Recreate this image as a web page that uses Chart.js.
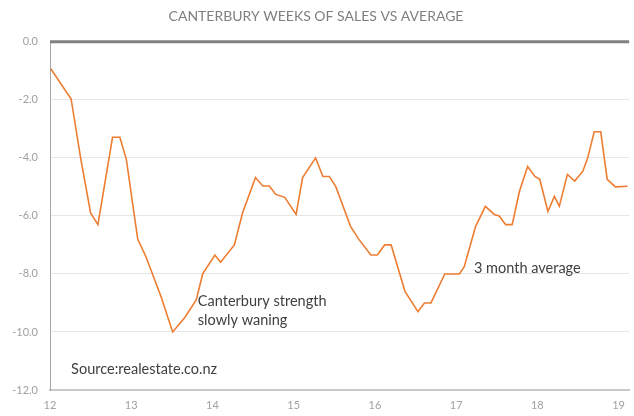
<!DOCTYPE html>
<html>
<head>
<meta charset="utf-8">
<script src="https://cdn.jsdelivr.net/npm/chart.js@4/dist/chart.umd.min.js"></script>
<style>
    html, body { margin: 0; padding: 0; background: #fff; }
    #wrap { width: 634px; height: 416px; }
</style>
</head>
<body>
<div id="wrap"><canvas id="salesChart" width="634" height="416"></canvas></div>
<script>
// years (12 = 2012) and weeks of sales vs average
const years = [
    12.01, 12.26, 12.38, 12.50, 12.59, 12.77, 12.86, 12.94, 13.08, 13.18,
    13.37, 13.51, 13.66, 13.80, 13.88, 14.03, 14.10, 14.27, 14.37, 14.53,
    14.62, 14.70, 14.78, 14.89, 15.03, 15.11, 15.27, 15.36, 15.44, 15.52,
    15.70, 15.80, 15.95, 16.03, 16.12, 16.20, 16.28, 16.37, 16.53, 16.61,
    16.69, 16.86, 17.04, 17.10, 17.24, 17.36, 17.47, 17.53, 17.61, 17.69,
    17.78, 17.88, 17.97, 18.03, 18.13, 18.21, 18.27, 18.37, 18.46, 18.56,
    18.62, 18.70, 18.78, 18.86, 18.96, 19.11
];
const weeksVsAvg = [
    -0.93, -1.97, -4.05, -5.9, -6.3, -3.29, -3.29, -4.05, -6.8, -7.4,
    -8.8, -10.0, -9.5, -8.9, -8.0, -7.35, -7.6, -7.0, -5.9, -4.68,
    -4.97, -4.97, -5.26, -5.36, -5.95, -4.68, -4.0, -4.64, -4.64, -5.0,
    -6.36, -6.8, -7.35, -7.35, -7.0, -7.0, -7.75, -8.6, -9.3, -9.0,
    -9.0, -8.0, -8.0, -7.75, -6.36, -5.67, -5.95, -6.0, -6.3, -6.3,
    -5.15, -4.3, -4.64, -4.74, -5.85, -5.33, -5.67, -4.57, -4.8, -4.46,
    -4.0, -3.1, -3.1, -4.74, -5.0, -4.98
];
const xTicks = [12, 13, 14, 15, 16, 17, 18, 19];
const yTicks = [0, -2, -4, -6, -8, -10, -12];

const titleText = 'CANTERBURY WEEKS OF SALES VS AVERAGE';
// notes: [text, x, y] in data units
const notes = [
    ['Canterbury strength', 13.82, -8.93],
    ['slowly waning', 13.82, -9.6],
    ['3 month average', 17.22, -7.82],
    ['Source:realestate.co.nz', 12.26, -11.3]
];

const FONT = 'Lato, "Open Sans", sans-serif';

const points = years.map((x, i) => ({ x: x, y: weeksVsAvg[i] }));

// text labels drawn in data coordinates
const notesPlugin = {
    id: 'notes',
    afterDatasetsDraw(chart){
        const ctx = chart.ctx;
        const xs = chart.scales.x, ys = chart.scales.y;
        ctx.save();
        ctx.font = '14.5px ' + FONT;
        ctx.fillStyle = '#404040';
        ctx.textAlign = 'left';
        ctx.textBaseline = 'middle';
        notes.forEach(n => {
            ctx.fillText(n[0], xs.getPixelForValue(n[1]), ys.getPixelForValue(n[2]));
        });
        ctx.restore();
    }
};

// thick line at zero
const zeroLinePlugin = {
    id: 'zeroLine',
    beforeDatasetsDraw(chart){
        const ctx = chart.ctx;
        const a = chart.chartArea;
        const y = chart.scales.y.getPixelForValue(0);
        ctx.save();
        ctx.strokeStyle = '#808080';
        ctx.lineWidth = 3;
        ctx.beginPath();
        ctx.moveTo(a.left, y);
        ctx.lineTo(a.right, y);
        ctx.stroke();
        ctx.restore();
    }
};

new Chart(document.getElementById('salesChart'), {
    type: 'line',
    data: {
        datasets: [{
            label: '3 month average',
            data: points,
            borderColor: '#ED7D31',
            borderWidth: 1.6,
            pointRadius: 0,
            tension: 0,
            fill: false
        }]
    },
    options: {
        responsive: false,
        animation: false,
        layout: { padding: { left: 0, right: 2, top: 0, bottom: 0 } },
        plugins: {
            legend: { display: false },
            tooltip: { enabled: false },
            title: {
                display: true,
                text: titleText,
                color: '#7f7f7f',
                font: { family: FONT, size: 14, weight: 'normal' },
                padding: { top: 8, bottom: 17 }
            }
        },
        scales: {
            x: {
                type: 'linear',
                min: 12,
                max: 19.13,
                afterBuildTicks: s => { s.ticks = xTicks.map(v => ({ value: v })); },
                afterFit: s => { s.height = 26; },
                grid: { display: false, drawTicks: false },
                border: { display: true, color: '#c8c8c8', width: 2 },
                ticks: {
                    color: '#a0a0a0',
                    font: { family: FONT, size: 11 },
                    padding: 9,
                    maxRotation: 0,
                    callback: v => String(v)
                }
            },
            y: {
                min: -12,
                max: 0,
                afterBuildTicks: s => { s.ticks = yTicks.map(v => ({ value: v })); },
                afterFit: s => { s.width = 50; },
                grid: {
                    color: ctx => ctx.tick && ctx.tick.value === -12 ? 'rgba(0,0,0,0)' : '#e6e6e6',
                    lineWidth: 1,
                    drawTicks: false
                },
                border: { display: true, color: '#a6a6a6', width: 1 },
                ticks: {
                    color: '#a0a0a0',
                    font: { family: FONT, size: 11 },
                    padding: 12,
                    callback: v => Number(v).toFixed(1)
                }
            }
        }
    },
    plugins: [zeroLinePlugin, notesPlugin]
});
</script>
</body>
</html>
